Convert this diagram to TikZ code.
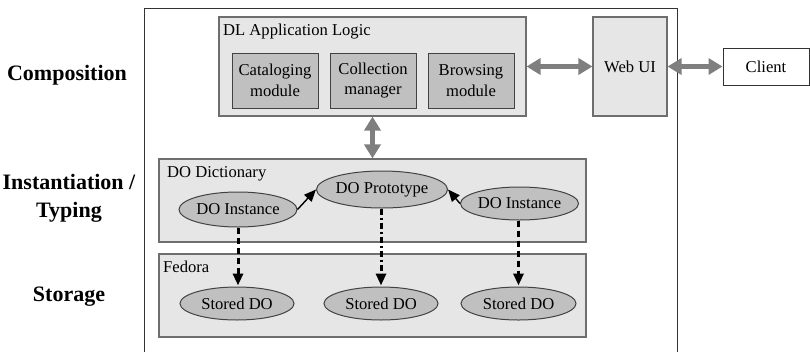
\documentclass[tikz,border=0pt]{standalone}
\usepackage{fontspec}
\setmainfont{Liberation Serif}
\usetikzlibrary{arrows.meta,shapes.geometric}

\definecolor{panel}{HTML}{E6E6E6}
\definecolor{module}{HTML}{C0C0C0}
\definecolor{edge}{HTML}{6E6E6E}
\definecolor{pipe}{HTML}{7F7F7F}

\tikzset{
  body/.style={font=\fontsize{16.6}{20.5}\selectfont},
  layer/.style={font=\bfseries\fontsize{22}{28}\selectfont, align=center},
  panelbox/.style={draw=edge, line width=1.1pt, fill=panel},
  modbox/.style={draw=edge!60!black, line width=1pt, fill=module, body, align=center,
    minimum width=86pt, minimum height=55pt, inner sep=0pt},
  obj/.style={ellipse, draw=edge!60!black, line width=1pt, fill=module, body,
    inner sep=0pt},
  title/.style={body, anchor=base west, inner sep=0pt},
  pipearrow/.style={draw=pipe, line width=5pt,
    {Triangle[width=16pt,length=14pt]}-{Triangle[width=16pt,length=14pt]}},
  typearrow/.style={draw=black, line width=1.4pt, -{Triangle[width=10pt,length=12pt]}},
  storearrow/.style={draw=black, line width=3pt, -{Triangle[width=10pt,length=12pt]},
    shorten >=1pt},
}

\begin{document}
\begin{tikzpicture}[x=1pt, y=-1pt]
\useasboundingbox (0,0) rectangle (810,351);
\clip (0,0) rectangle (810,351);

% system frame (open past the lower edge)
\draw[line width=1pt, black!80] (144,8) rectangle (677,380);

% layer labels
\node[layer] (lcomp) at (67,75) {Composition};
\node[layer] (linst) at (69,198) {Instantiation /\\Typing};
\node[layer] (lstore) at (69,297) {Storage};

% composition layer
\node[panelbox, minimum width=307pt, minimum height=99pt, inner sep=0pt] (dl) at (372.5,66.5) {};
\node[title] (dltitle) at (223,35) {DL Application Logic};
\node[modbox] (catal) at (275,80.5) {Cataloging\\module};
\node[modbox] (collm) at (373,80.5) {Collection\\manager};
\node[modbox] (brows) at (471,80.5) {Browsing\\module};

\node[panelbox, body, minimum width=74pt, minimum height=99pt, inner sep=0pt] (web) at (630,66.5) {Web UI};
\node[draw=black!80, line width=1pt, fill=white, body, minimum width=86pt, minimum height=37pt, inner sep=0pt] (client) at (766,66.5) {Client};

% instantiation / typing layer
\node[panelbox, minimum width=427pt, minimum height=83pt, inner sep=0pt] (dict) at (372.5,200.5) {};
\node[title] (dicttitle) at (167,177) {DO Dictionary};
\node[obj, minimum width=115pt, minimum height=37pt] (proto) at (382,189.5) {DO Prototype};
\node[obj, minimum width=114pt, minimum height=35pt] (inst1) at (238,209.5) {DO Instance};
\node[obj, minimum width=115pt, minimum height=33pt] (inst2) at (519.5,203.5) {DO Instance};

% storage layer
\node[panelbox, minimum width=427pt, minimum height=83pt, inner sep=0pt] (fed) at (372.5,295.5) {};
\node[title] (fedtitle) at (163,272) {Fedora};
\node[obj, minimum width=114pt, minimum height=33pt] (st1) at (237,303.5) {Stored DO};
\node[obj, minimum width=114pt, minimum height=33pt] (st2) at (381,303.5) {Stored DO};
\node[obj, minimum width=115pt, minimum height=33pt] (st3) at (518.5,303.5) {Stored DO};

% connectors
\draw[pipearrow] (dl.east |- web.west) -- (web.west);
\draw[pipearrow] (web.east) -- (client.west);
\draw[pipearrow] (dl.south) -- (dl.south |- dict.north);

\draw[typearrow] (inst1.east) -- (proto.west);
\draw[typearrow] (inst2.west) -- (proto.east);

\draw[storearrow, dash pattern=on 6pt off 4pt] (inst1.south) -- (inst1.south |- st1.north);
\draw[storearrow, dash pattern=on 6pt off 3pt on 2pt off 3pt] (proto.south -| st2.north) -- (st2.north);
\draw[storearrow, dash pattern=on 6pt off 4pt] (inst2.south -| st3.north) -- (st3.north);
\end{tikzpicture}
\end{document}
